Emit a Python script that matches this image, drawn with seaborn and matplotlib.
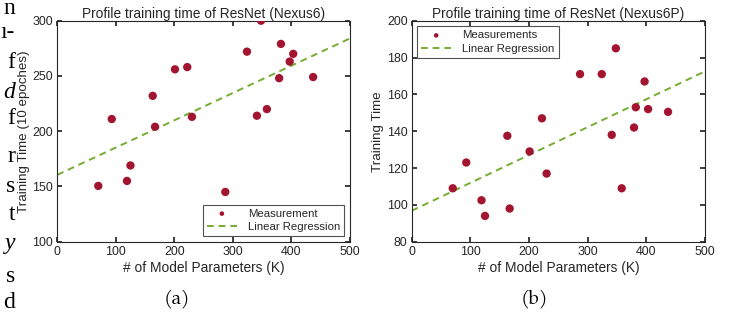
import pandas as pd
import matplotlib
matplotlib.use("Agg")
import matplotlib.pyplot as plt
import seaborn as sns

# model sizes (K params), same for both devices
params_k = [70, 93, 119, 125, 163, 167, 201, 222, 230, 287,
            324, 341, 348, 358, 379, 382, 397, 403, 437]

# Nexus6 training time (10 epoches)
nexus6_time = [150.5, 211, 155, 169, 232, 204, 256, 258, 213, 145,
               272, 214, 300, 220, 248, 279, 263, 270, 249]

# Nexus6P training time
nexus6p_time = [109, 123, 102.5, 94, 137.5, 98, 129, 147, 117, 171,
                171, 138, 185, 109, 142, 153, 167, 152, 150.5]

# regression lines read at x = 0 and x = 500
reg_x = [0, 500]
nexus6_reg = [160.5, 284]
nexus6p_reg = [96.8, 172.5]

# bits of the paper body text that got clipped into the screenshot
margin_text = ["n", "ı-", "f", "d", "f", "r", "s", "t", "y", "s", "d"]
margin_italic = [False, False, False, True, False, False, False, False, True, False, False]
margin_y = [8, 33, 63, 93, 119, 156, 186, 215, 243, 276, 303]

sns.set_theme(style="ticks")
plt.rcParams["font.family"] = ["Liberation Sans", "DejaVu Sans"]
txt_col = "#262626"
plt.rcParams.update({
    "axes.edgecolor": txt_col, "axes.labelcolor": txt_col,
    "xtick.color": txt_col, "ytick.color": txt_col, "text.color": txt_col,
    "xtick.direction": "in", "ytick.direction": "in",
    "xtick.top": True, "ytick.right": True,
    "xtick.major.size": 3.5, "ytick.major.size": 3.5,
    "axes.linewidth": 0.8,
})

red = "#A2142F"
green = "#77AC30"

fig = plt.figure(figsize=(7.35, 3.16), dpi=100)
W, H = 735, 316


def px_axes(x0, x1, ytop, ybot):
    return fig.add_axes([x0 / W, 1 - ybot / H, (x1 - x0) / W, (ybot - ytop) / H])


ax1 = px_axes(57.3, 350, 20.7, 241.7)
ax2 = px_axes(411.7, 705, 20.7, 241.7)

panels = [
    (ax1, nexus6_time, nexus6_reg, "Measurement", "Profile training time of ResNet (Nexus6)",
     "Training Time (10 epoches)", (100, 300), range(100, 301, 50), "lower right"),
    (ax2, nexus6p_time, nexus6p_reg, "Measurements", "Profile training time of ResNet (Nexus6P)",
     "Training Time", (80, 200), range(80, 201, 20), "upper left"),
]

for ax, times, reg, meas_label, title, ylabel, ylim, yticks, loc in panels:
    df = pd.DataFrame({"params": params_k, "time": times})
    sns.scatterplot(data=df, x="params", y="time", ax=ax, color=red, s=36,
                    edgecolor="none", label=meas_label, zorder=3)
    sns.lineplot(x=reg_x, y=reg, ax=ax, color=green, linewidth=1.4,
                 dashes=False, label="Linear Regression", zorder=2)
    ax.lines[-1].set_linestyle((0, (3.5, 2.5)))
    ax.set_xlim(0, 500)
    ax.set_ylim(*ylim)
    ax.set_xticks(range(0, 501, 100))
    ax.set_yticks(list(yticks))
    ax.tick_params(labelsize=8.9, pad=3)
    ax.set_title(title, fontsize=9.9, pad=2)
    ax.set_xlabel("# of Model Parameters (K)", fontsize=9.9, labelpad=2)
    ax.set_ylabel(ylabel, fontsize=9.6)
    ax.yaxis.set_label_coords(-0.094, 0.5)
    for sp in ax.spines.values():
        sp.set_visible(True)
    leg = ax.legend(loc=loc, fontsize=8.2, frameon=True, fancybox=False,
                    edgecolor=txt_col, markerscale=0.55, handlelength=2.6,
                    borderaxespad=0.5, borderpad=0.35, labelspacing=0.3,
                    handletextpad=1.0)
    leg.get_frame().set_linewidth(0.8)

# sub-figure captions
cap_font = ["TeX Gyre Pagella", "Liberation Serif", "DejaVu Serif"]
fig.text(177 / W, 1 - 299 / H, "(a)", ha="center", va="center", fontsize=13.5,
         family=cap_font, color="black")
fig.text(534 / W, 1 - 299 / H, "(b)", ha="center", va="center", fontsize=13.5,
         family=cap_font, color="black")

for t, it, y in zip(margin_text, margin_italic, margin_y):
    fig.text(15 / W, 1 - y / H, t, ha="right", va="center", fontsize=17,
             style="italic" if it else "normal", color="black",
             family=["Liberation Serif", "DejaVu Serif"])

fig.savefig("out.png", dpi=100)
